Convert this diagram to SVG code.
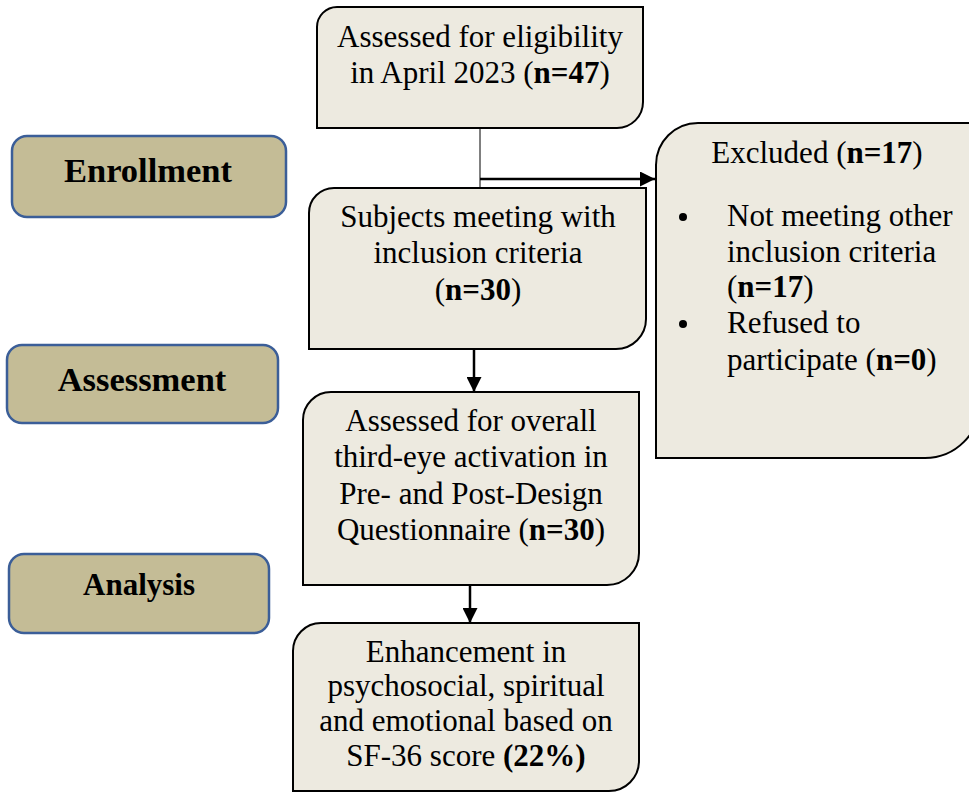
<svg xmlns="http://www.w3.org/2000/svg" width="969" height="792" viewBox="0 0 969 792">
<defs>
<style>
.box{fill:#edeae0;stroke:#000;stroke-width:2}
.lab{fill:#c4bc96;stroke:#3b5e98;stroke-width:2.5}
.t{font-family:"Liberation Serif","Times New Roman",serif;font-size:31px;fill:#000;text-anchor:middle}
.tl{font-family:"Liberation Serif","Times New Roman",serif;font-size:31px;fill:#000}
.lt{font-family:"Liberation Serif","Times New Roman",serif;font-weight:bold;fill:#000;text-anchor:middle}
.b{font-weight:bold}
.con{stroke:#000;fill:none}
</style>
<marker id="ah2" viewBox="0 0 10 10" refX="10" refY="5" markerWidth="15" markerHeight="15" markerUnits="userSpaceOnUse" orient="auto">
<path d="M0,0 L10,5 L0,10 Z" fill="#000"/>
</marker>
</defs>
<rect width="969" height="792" fill="#fff"/>

<g id="enrollment">
<rect class="lab" x="12" y="136" width="274" height="81" rx="15"/>
<text class="lt" x="148" y="182" font-size="34.5">Enrollment</text>
</g>
<g id="assessment">
<rect class="lab" x="7" y="345" width="271" height="78" rx="15"/>
<text class="lt" x="142" y="391" font-size="34.5">Assessment</text>
</g>
<g id="analysis">
<rect class="lab" x="9" y="554" width="260" height="79" rx="15"/>
<text class="lt" x="139" y="595" font-size="31">Analysis</text>
</g>

<g id="eligibility">
<path class="box" d="M337,7 H643 V102 A26,26 0 0 1 617,128 H317 V27 A20,20 0 0 1 337,7 Z"/>
<text class="t" x="480" y="47">Assessed for eligibility</text>
<text class="t" x="480" y="83">in April 2023 (<tspan class="b">n=47</tspan>)</text>
</g>

<g id="inclusion">
<path class="box" d="M334,188 H646 V319 A30,30 0 0 1 616,349 H309 V213 A25,25 0 0 1 334,188 Z"/>
<text class="t" x="478" y="227">Subjects meeting with</text>
<text class="t" x="478" y="263">inclusion criteria</text>
<text class="t" x="478" y="300">(<tspan class="b">n=30</tspan>)</text>
</g>

<g id="excluded">
<path class="box" d="M698,123 H980 V403 A55,55 0 0 1 925,458 H656 V165 A42,42 0 0 1 698,123 Z"/>
<text class="t" x="817" y="163">Excluded (<tspan class="b">n=17</tspan>)</text>
<circle cx="683" cy="217" r="4" fill="#000"/>
<text class="tl" x="727" y="226">Not meeting other</text>
<text class="tl" x="727" y="262">inclusion criteria</text>
<text class="tl" x="727" y="297">(<tspan class="b">n=17</tspan>)</text>
<circle cx="683" cy="324" r="4" fill="#000"/>
<text class="tl" x="727" y="333">Refused to</text>
<text class="tl" x="727" y="370">participate (<tspan class="b">n=0</tspan>)</text>
</g>

<g id="overall">
<path class="box" d="M331,392 H639 V553 A32,32 0 0 1 607,585 H303 V420 A28,28 0 0 1 331,392 Z"/>
<text class="t" x="471" y="431">Assessed for overall</text>
<text class="t" x="471" y="467">third-eye activation in</text>
<text class="t" x="471" y="504">Pre- and Post-Design</text>
<text class="t" x="471" y="540">Questionnaire (<tspan class="b">n=30</tspan>)</text>
</g>

<g id="enhancement">
<path class="box" d="M321,623 H639 V761 A30,30 0 0 1 609,791 H293 V651 A28,28 0 0 1 321,623 Z"/>
<text class="t" x="466" y="662">Enhancement in</text>
<text class="t" x="466" y="696">psychosocial, spiritual</text>
<text class="t" x="466" y="731">and emotional based on</text>
<text class="t" x="466" y="766">SF-36 score <tspan class="b">(22%)</tspan></text>
</g>

<g id="connectors">
<line class="con" x1="480" y1="128" x2="480" y2="188" stroke-width="1"/>
<line class="con" x1="480" y1="179" x2="655" y2="179" stroke-width="2.5" marker-end="url(#ah2)"/>
<line class="con" x1="474" y1="349" x2="474" y2="392" stroke-width="2.5" marker-end="url(#ah2)"/>
<line class="con" x1="470" y1="585" x2="470" y2="623" stroke-width="2.5" marker-end="url(#ah2)"/>
</g>
</svg>
